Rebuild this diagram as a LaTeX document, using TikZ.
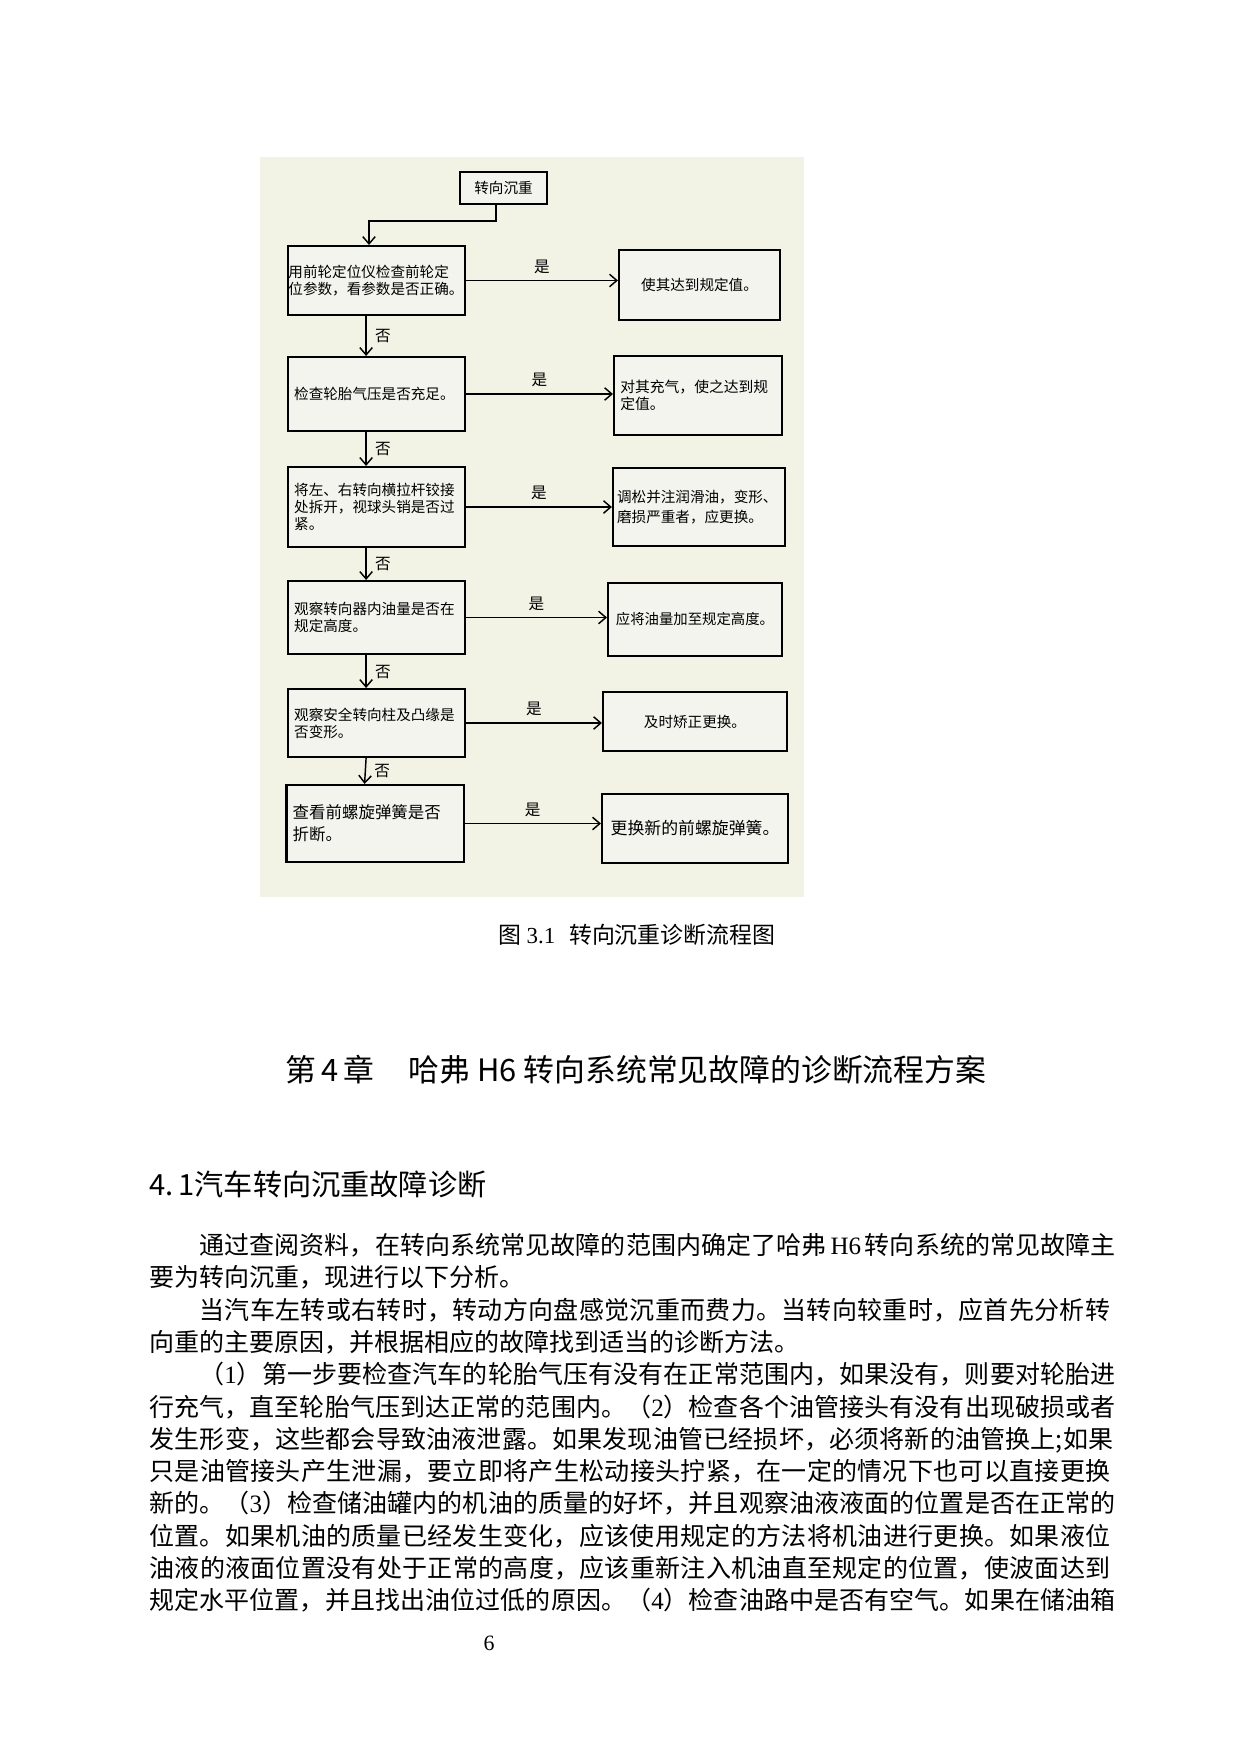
\documentclass[tikz,border=0pt]{standalone}
\usepackage{fontspec}
\setmainfont{Liberation Serif}
\newfontfamily\cjk{Noto Sans CJK SC}
\usetikzlibrary{arrows.meta}
\XeTeXlinebreaklocale "zh"
\XeTeXlinebreakskip=0pt plus 1pt minus 0.05pt
\definecolor{bgbeige}{RGB}{242,242,229}
\definecolor{boxfill}{RGB}{244,244,238}

\begin{document}
\begin{tikzpicture}[x=0.48pt,y=-0.48pt,
    lbox/.style={draw,line width=1pt,fill=boxfill,inner xsep=3pt,inner ysep=1pt,
      text width=79pt,align=left,font=\cjk\fontsize{7}{8.2}\selectfont},
    rbox/.style={draw,line width=1pt,fill=boxfill,inner xsep=3pt,inner ysep=1pt,
      align=left,font=\cjk\fontsize{7}{8.2}\selectfont},
    arr/.style={line width=0.7pt,-{Straight Barb[length=3.5pt,width=6pt]}},
    lbl/.style={font=\cjk\fontsize{7.5}{9}\selectfont,inner sep=1pt}]
        \useasboundingbox (0,0) rectangle (1240,1754);

        % 流程图的底色
        \fill[bgbeige] (260,157) rectangle (804,897);

        % 起点
        \node[rbox,minimum width=41.8pt,minimum height=15.4pt,align=center](nstart) at (503.5,188) {转向沉重};

        % 左列：检查步骤
        \node[lbox,minimum height=33.1pt,inner xsep=0.25pt,text width=84.5pt,font=\cjk\fontsize{7}{7.8}\selectfont](n1) at (376.5,280.5) {用前轮定位仪检查前轮定\\位参数，看参数是否正确。};
        \node[lbox,minimum height=35.5pt](n2) at (376.5,394) {检查轮胎气压是否充足。};
        \node[lbox,minimum height=38.4pt](n3) at (376.5,507) {将左、右转向横拉杆铰接\\处拆开，视球头销是否过\\紧。};
        \node[lbox,minimum height=35pt](n4) at (376.5,617.5) {观察转向器内油量是否在\\规定高度。};
        \node[lbox,minimum height=32.6pt](n5) at (376.5,723) {观察安全转向柱及凸缘是\\否变形。};
        \node[lbox,minimum height=37pt,font=\cjk\fontsize{7.9}{10.5}\selectfont](n6) at (375,823.5) {查看前螺旋弹簧是否\\折断。};

        % 右列：处理方法
        \node[rbox,minimum width=77.3pt,minimum height=33.6pt](r1) at (699.5,285) {使其达到规定值。};
        \node[rbox,minimum height=37.9pt,text width=74.6pt,font=\cjk\fontsize{7.1}{8.2}\selectfont](r2) at (698,395.5) {对其充气，使之达到规\\定值。};
        \node[rbox,minimum height=37.4pt,inner xsep=2pt,text width=78.6pt,font=\cjk\fontsize{7}{9.6}\selectfont](r3) at (699,507) {调松并注润滑油，变形、\\磨损严重者，应更换。};
        \node[rbox,minimum width=83.5pt,minimum height=35pt,font=\cjk\fontsize{6.9}{8.2}\selectfont](r4) at (695,619.5) {应将油量加至规定高度。};
        \node[rbox,minimum width=88.3pt,minimum height=28.3pt](r5) at (695,721.5) {及时矫正更换。};
        \node[rbox,minimum width=89.3pt,minimum height=33.1pt,font=\cjk\fontsize{8.1}{9}\selectfont](r6) at (695,828.5) {更换新的前螺旋弹簧。};

        % 起点到第一步
        \draw[arr] ([xshift=-3.6pt]nstart.south) -- ++(0,16) -| ([xshift=-3.6pt]n1.north);

        % “否”：向下
        \draw[arr] ([xshift=-5pt]n1.south) -- ([xshift=-5pt]n2.north) node[midway,right=3pt,lbl]{否};
        \draw[arr] ([xshift=-5pt]n2.south) -- ([xshift=-5pt]n3.north) node[midway,right=3pt,lbl]{否};
        \draw[arr] ([xshift=-5pt]n3.south) -- ([xshift=-5pt]n4.north) node[midway,right=3pt,lbl]{否};
        \draw[arr] ([xshift=-5pt]n4.south) -- ([xshift=-5pt]n5.north) node[midway,right=3pt,lbl]{否};
        \draw[arr] ([xshift=-5pt]n5.south) -- ([xshift=-5pt]n6.north) node[midway,right=3pt,lbl]{否};

        % “是”：向右
        \draw[arr] (n1.east) -- (n1.east -| r1.west) node[midway,above=2pt,lbl]{是};
        \draw[arr] (n2.east) -- (n2.east -| r2.west) node[midway,above=2pt,lbl]{是};
        \draw[arr] (n3.east) -- (n3.east -| r3.west) node[midway,above=2pt,lbl]{是};
        \draw[arr] (n4.east) -- (n4.east -| r4.west) node[midway,above=2pt,lbl]{是};
        \draw[arr] (n5.east) -- (n5.east -| r5.west) node[midway,above=2pt,lbl]{是};
        \draw[arr] (n6.east) -- (n6.east -| r6.west) node[midway,above=2pt,lbl]{是};

        % 图题与标题
        \node[font=\cjk\fontsize{11}{13}\selectfont](ncap) at (637,935) {图 {\rmfamily 3.1}\hspace{0.6em}转向沉重诊断流程图};
        \node[font=\cjk\fontsize{14.8}{18}\selectfont](nchap) at (636,1070) {第\,4\,章\hspace{1.1em}哈弗 H6 转向系统常见故障的诊断流程方案};
        \node[anchor=west,inner sep=0pt,font=\cjk\fontsize{14}{17}\selectfont](nsec) at (149,1184) {4.\,1汽车转向沉重故障诊断};

        % 正文
        \node[anchor=north west,inner sep=0pt,text width=465pt,font={\cjk\fontsize{12}{15.5}\selectfont\parindent=0pt}](nbody) at (149,1233) {\hspace*{24pt}通过查阅资料，在转向系统常见故障的范围内确定了哈弗\hspace{0.15em}{\rmfamily H6}\hspace{0.15em}转向系统的常见故障主\linebreak
要为转向沉重，现进行以下分析。\par
\hspace*{24pt}当汽车左转或右转时，转动方向盘感觉沉重而费力。当转向较重时，应首先分析转\linebreak
向重的主要原因，并根据相应的故障找到适当的诊断方法。\par
\hspace*{24pt}（{\rmfamily 1}）第一步要检查汽车的轮胎气压有没有在正常范围内，如果没有，则要对轮胎进\linebreak
行充气，直至轮胎气压到达正常的范围内。（{\rmfamily 2}）检查各个油管接头有没有出现破损或者\linebreak
发生形变，这些都会导致油液泄露。如果发现油管已经损坏，必须将新的油管换上;如果\linebreak
只是油管接头产生泄漏，要立即将产生松动接头拧紧，在一定的情况下也可以直接更换\linebreak
新的。（{\rmfamily 3}）检查储油罐内的机油的质量的好坏，并且观察油液液面的位置是否在正常的\linebreak
位置。如果机油的质量已经发生变化，应该使用规定的方法将机油进行更换。如果液位\linebreak
油液的液面位置没有处于正常的高度，应该重新注入机油直至规定的位置，使波面达到\linebreak
规定水平位置，并且找出油位过低的原因。（{\rmfamily 4}）检查油路中是否有空气。如果在储油箱{\parfillskip=0pt\par}};

        % 页码
        \node[font=\fontsize{10.5}{12}\selectfont](npage) at (489,1643) {6};
\end{tikzpicture}
\end{document}
